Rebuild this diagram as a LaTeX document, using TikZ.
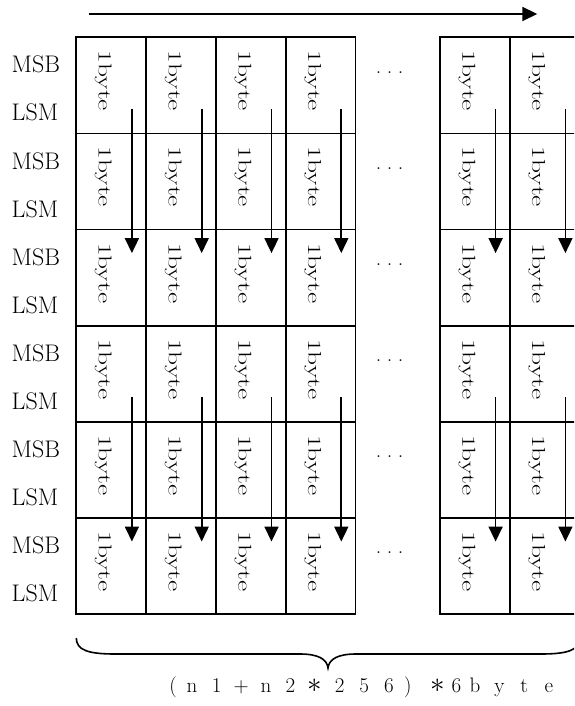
\documentclass[tikz,border=0pt]{standalone}
\usepackage{fontspec}
\usetikzlibrary{arrows.meta}
\newcommand\fwc[1]{\makebox[24.6pt][c]{#1}}
\newcommand\fwr[1]{\makebox[24.6pt][r]{#1\hspace*{3pt}}}
\newcommand\fwl[1]{\makebox[24.6pt][l]{\hspace*{3pt}#1}}
\newcommand\hwc[1]{\makebox[12.3pt][c]{#1}}
\newcommand\bigast{\scalebox{1.4}{$\ast$}}
\newcommand\threedots{.\hspace{5.5pt}.\hspace{5.5pt}.}
\begin{document}
\begin{tikzpicture}[x=1pt,y=-1pt,
  gridline/.style={line width=1.7pt},
  flow/.style={line width=1.7pt,-{Triangle[length=15pt,width=14pt]}},
  lbl/.style={font=\fontsize{24}{28}\selectfont,inner sep=0,anchor=base west},
  cellt/.style={font=\fontsize{22}{26}\selectfont,inner sep=0,rotate=-90},
  dotsn/.style={font=\fontsize{22}{26}\selectfont,inner sep=0},
  bracel/.style={line width=1.6pt}]
\useasboundingbox (0,0) rectangle (574,706);
\clip (0,0) rectangle (574,706);
% top arrow
\coordinate (ts) at (89,14);
\coordinate (te) at (537.3,14);
\draw[flow] (ts) -- (te);
% grid left group
\draw[gridline] (76.3,37.3) rectangle (355.5,614.2);
\foreach \x in {146.1,215.9,285.7} \draw[gridline] (\x,37.3) -- (\x,614.2);
\foreach \i in {1,...,5} \draw[gridline] (76.3,37.3+96.15*\i) -- (355.5,37.3+96.15*\i);
% grid right group
\draw[gridline] (440,37.3) rectangle (579.6,614.2);
\draw[gridline] (509.8,37.3) -- (509.8,614.2);
\foreach \i in {1,...,5} \draw[gridline] (440,37.3+96.15*\i) -- (579.6,37.3+96.15*\i);
% row labels and dots
\foreach \i in {0,...,5} {
  \node[lbl] (msb\i) at (11.5,37.3+96.15*\i+35.7) {MSB};
  \node[lbl] (lsm\i) at (11.5,37.3+96.15*\i+83.7) {LSM};
  \node[dotsn] (dots\i) at (389.5,37.3+96.15*\i+35) {\threedots};
}
% cells text
\foreach \x [count=\c] in {76.3,146.1,215.9,285.7,440,509.8} {
  \foreach \i in {0,...,5} {
    \node[cellt] (b\c-\i) at (\x+27,37.3+96.15*\i+43.5) {\scalebox{1.25}[0.85]{1byte}};
  }
  \coordinate (as\c) at (\x+55.6,37.3+71.5);
  \coordinate (ae\c) at (\x+55.6,37.3+96.15*2+23.5);
  \coordinate (bs\c) at (\x+55.6,37.3+96.15*3+71.5);
  \coordinate (be\c) at (\x+55.6,37.3+96.15*5+23.5);
  \draw[flow] (as\c) -- (ae\c);
  \draw[flow] (bs\c) -- (be\c);
}
% brace
\draw[bracel] (76.3,638) .. controls (76.3,650) and (88,654) .. (115,654)
  -- (300,654) .. controls (318,654) and (327,659) .. (328,668)
  .. controls (329,659) and (338,654) .. (356,654)
  -- (541,654) .. controls (568,654) and (579.6,650) .. (579.6,638);
% bottom text
\node[anchor=base west,inner sep=0,font=\fontsize{21}{25}\selectfont] (total) at (155,692.5)
  {\fwr{(}\fwc{n}\fwc{1}\fwc{+}\fwc{n}\fwc{2}\fwc{\bigast}\fwc{2}\fwc{5}\fwc{6}\fwl{)}\fwc{\bigast}\hwc{6}\fwc{b}\fwc{y}\fwc{t}\fwc{e}};
\end{tikzpicture}
\end{document}
